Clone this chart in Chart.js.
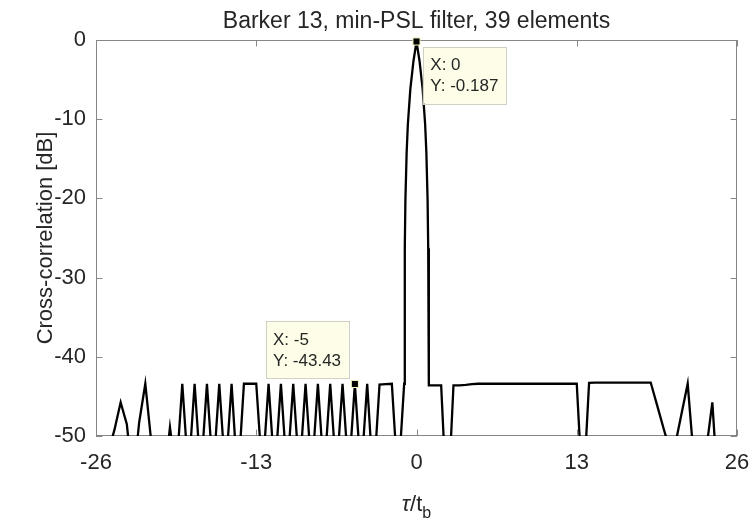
<!DOCTYPE html>
<html>
<head>
<meta charset="utf-8">
<title>Barker 13, min-PSL filter</title>
<script src="https://cdn.jsdelivr.net/npm/chart.js@4.4.1/dist/chart.umd.min.js"></script>
<style>
  html, body { margin: 0; padding: 0; background: #fff; }
</style>
</head>
<body>
<canvas id="grafico" width="749" height="520"></canvas>
<script>
// retardo tau/t_b y correlacion cruzada en dB
const lags = [
  -25, -24.5, -24, -23.5, -23, -22.5, -22, -21.5, -21, -20.5,
  -20, -19.5, -19, -18.5, -18, -17.5, -17, -16.5, -16, -15.5,
  -15, -14.5, -14, -13.5, -13, -12.5, -12, -11.5, -11, -10.5,
  -10, -9.5, -9, -8.5, -8, -7.5, -7, -6.5, -6, -5.5,
  -5, -4.5, -4, -3.5, -3, -2.5, -2, -1.5, -1,
  -0.95, -0.9, -0.8, -0.7, -0.5, -0.25, 0, 0.25, 0.5, 0.7, 0.8, 0.9, 0.95,
  1, 1.5, 2, 2.5, 3, 3.5, 4, 4.5, 5, 5.5,
  6, 6.5, 7, 7.5, 8, 8.5, 9, 9.5, 10, 10.5,
  11, 11.5, 12, 12.5, 13, 13.5, 14, 14.5, 15, 15.5,
  16, 16.5, 17, 17.5, 18, 18.5, 19, 19.5, 20, 20.5,
  21, 21.5, 22, 22.5, 23, 23.5, 24, 24.5, 25
];
const corrDb = [
  -52, -49.2, -45.75, -48.5, -56, -48.3, -43.4, -51, -60, -56,
  -48.9, -55, -43.4, -55, -43.4, -55, -43.4, -55, -43.4, -55,
  -43.4, -56, -43.4, -43.4, -43.4, -55, -43.4, -55, -43.4, -55,
  -43.4, -55, -43.4, -55, -43.4, -55, -43.4, -55, -43.4, -55,
  -43.43, -55, -43.4, -56, -43.5, -43.45, -43.4, -56, -43.4,
  -26.3, -20.2, -14.2, -10.6, -6.2, -2.7, -0.187, -2.7, -6.2, -10.6, -14.2, -20.2, -26.3,
  -43.6, -43.6, -43.6, -60, -43.6, -43.6, -43.55, -43.45, -43.4, -43.4,
  -43.4, -43.4, -43.4, -43.4, -43.4, -43.4, -43.4, -43.4, -43.4, -43.4,
  -43.4, -43.4, -43.4, -43.4, -43.4, -58, -43.3, -43.25, -43.25, -43.25,
  -43.25, -43.25, -43.25, -43.25, -43.25, -43.25, -43.25, -46, -48.8, -51.5,
  -51, -47.2, -43.4, -53, -60, -51.8, -45.75, -58, -60
];
const xTicks = [-26, -13, 0, 13, 26];
const yTicks = [0, -10, -20, -30, -40, -50];
// data tips
const tipX = [0, -5];
const tipY = [-0.187, -43.43];

const titulo = "Barker 13, min-PSL filter, 39 elements";
const fuente = "'Liberation Sans', Arial, sans-serif";
const gris = "#868686";
const texto = "#262626";

const marco = {
    id: "marco",
    beforeDatasetsDraw(chart) {
        const { ctx, chartArea: a, scales: { x, y } } = chart;
        const largo = 6.4;
        ctx.save();
        ctx.strokeStyle = gris;
        ctx.lineWidth = 1;
        ctx.strokeRect(a.left + 0.5, a.top + 0.5, a.right - a.left - 1, a.bottom - a.top - 1);
        ctx.beginPath();
        xTicks.forEach(v => {
            const px = Math.round(x.getPixelForValue(v)) + 0.5;
            ctx.moveTo(px, a.bottom); ctx.lineTo(px, a.bottom - largo);
            ctx.moveTo(px, a.top); ctx.lineTo(px, a.top + largo);
        });
        yTicks.forEach(v => {
            const py = Math.round(y.getPixelForValue(v)) + 0.5;
            ctx.moveTo(a.left, py); ctx.lineTo(a.left + largo, py);
            ctx.moveTo(a.right, py); ctx.lineTo(a.right - largo, py);
        });
        ctx.stroke();
        ctx.restore();
    },
    afterDraw(chart) {
        const { ctx, chartArea: a, scales: { x, y } } = chart;
        const centro = (a.left + a.right) / 2;
        ctx.save();
        ctx.fillStyle = texto;

        // titulo, centrado sobre los ejes
        ctx.textAlign = "center";
        ctx.textBaseline = "alphabetic";
        ctx.font = "23px " + fuente;
        ctx.fillText(titulo, centro, 28.3);

        // etiqueta del eje x: tau/t_b
        ctx.textAlign = "left";
        ctx.font = "italic 22px " + fuente;
        const w1 = ctx.measureText("\u03c4").width;
        ctx.font = "22px " + fuente;
        const w2 = ctx.measureText("/t").width;
        ctx.font = "16px " + fuente;
        const w3 = ctx.measureText("b").width;
        let cx = centro - (w1 + w2 + w3) / 2;
        ctx.font = "italic 22px " + fuente;
        ctx.fillText("\u03c4", cx, 511);
        cx += w1;
        ctx.font = "22px " + fuente;
        ctx.fillText("/t", cx, 511);
        cx += w2;
        ctx.font = "16px " + fuente;
        ctx.fillText("b", cx, 518);

        // cuadros de los data tips
        ctx.font = "17px " + fuente;
        tipX.forEach((tx, i) => {
            const px = x.getPixelForValue(tx);
            const py = y.getPixelForValue(tipY[i]);
            const l1 = "X: " + tx;
            const l2 = "Y: " + tipY[i];
            const w = Math.max(ctx.measureText(l1).width, ctx.measureText(l2).width) + 15;
            const h = 57;
            let bx, by;
            if (i === 0) { bx = px + 6.3; by = py + 5.2; }
            else { bx = px - 6.3 - w; by = py - 5.8 - h; }
            ctx.fillStyle = "#fdfde8";
            ctx.fillRect(bx, by, w, h);
            ctx.strokeStyle = "#cfcfc4";
            ctx.lineWidth = 1;
            ctx.strokeRect(Math.round(bx) + 0.5, Math.round(by) + 0.5, Math.round(w), h);
            ctx.fillStyle = texto;
            ctx.textBaseline = "middle";
            ctx.fillText(l1, bx + 7.5, by + 19);
            ctx.fillText(l2, bx + 7.5, by + 40);
        });
        ctx.restore();
    }
};

new Chart(document.getElementById("grafico"), {
    type: "line",
    data: {
        datasets: [{
            label: "Correlacion",
            data: lags.map((v, i) => ({ x: v, y: corrDb[i] })),
            borderColor: "#000000",
            borderWidth: 2.3,
            pointRadius: 0,
            tension: 0,
            fill: false,
            order: 2
        }, {
            label: "Data tips",
            type: "scatter",
            data: tipX.map((v, i) => ({ x: v, y: tipY[i] })),
            pointStyle: "rect",
            pointRadius: 5,
            backgroundColor: "#000000",
            borderColor: "#f4f4b8",
            borderWidth: 1,
            clip: false,
            order: 1
        }]
    },
    options: {
        responsive: false,
        animation: false,
        layout: { padding: { top: 40, right: 12, bottom: 0, left: 0 } },
        plugins: {
            legend: { display: false },
            tooltip: { enabled: false },
            title: { display: false }
        },
        scales: {
            x: {
                type: "linear",
                min: -26,
                max: 26,
                afterBuildTicks: s => { s.ticks = xTicks.map(v => ({ value: v })); },
                afterFit: s => { s.height = 84; s.paddingLeft = 0; s.paddingRight = 0; },
                grid: { display: false, drawTicks: false },
                border: { display: false },
                ticks: { color: texto, font: { family: fuente, size: 22 }, padding: 14, maxRotation: 0 }
            },
            y: {
                type: "linear",
                min: -50,
                max: 0,
                afterBuildTicks: s => { s.ticks = yTicks.map(v => ({ value: v })); },
                afterFit: s => { s.width = 96; s.paddingTop = 0; s.paddingBottom = 0; },
                grid: { display: false, drawTicks: false },
                border: { display: false },
                ticks: { color: texto, font: { family: fuente, size: 22 }, padding: 10 },
                title: {
                    display: true,
                    text: "Cross-correlation [dB]",
                    color: texto,
                    font: { family: fuente, size: 22 },
                    padding: { top: 33, bottom: 0 }
                }
            }
        }
    },
    plugins: [marco]
});
</script>
</body>
</html>
